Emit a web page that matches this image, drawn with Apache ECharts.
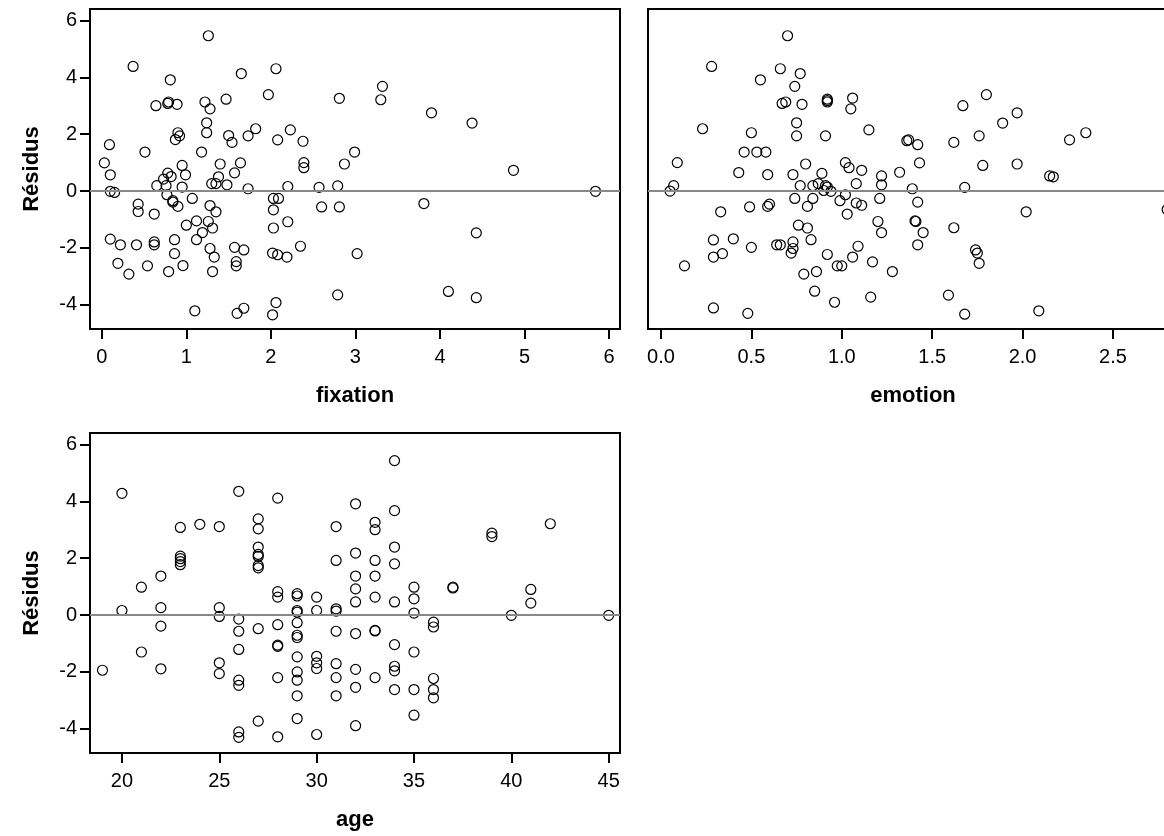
<!DOCTYPE html>
<html>
<head>
<meta charset="utf-8">
<script src="https://cdn.jsdelivr.net/npm/echarts@6/dist/echarts.min.js"></script>
<style>html,body{margin:0;padding:0;background:#fff;}#c{width:1164px;height:836px;}</style>
</head>
<body>
<div id="c"></div>
<script>
// [fixation, residual]
const fixationData = [
[1.26,5.46],[0.37,4.38],[0.81,3.91],[1.65,4.13],[2.06,4.30],[1.97,3.39],[2.81,3.26],[0.64,3.00],[0.78,3.08],[0.79,3.13],
[0.89,3.05],[1.22,3.13],[1.28,2.89],[1.47,3.23],[1.24,2.40],[1.24,2.05],[0.90,2.05],[0.92,1.94],[0.87,1.81],[1.50,1.95],
[1.54,1.71],[1.73,1.94],[1.82,2.19],[2.08,1.80],[2.23,2.15],[2.38,1.75],[0.09,1.63],[0.51,1.37],[1.18,1.37],[2.99,1.37],
[0.03,0.99],[0.95,0.90],[1.40,0.95],[1.64,0.99],[2.39,1.00],[2.39,0.82],[2.87,0.95],[0.10,0.57],[0.78,0.63],[0.82,0.51],
[0.73,0.42],[0.99,0.57],[1.38,0.50],[1.57,0.64],[3.32,3.68],[3.30,3.21],[3.90,2.75],[4.38,2.39],[4.87,0.73],[0.65,0.19],
[0.76,0.19],[0.95,0.14],[0.10,-0.01],[0.15,-0.05],[1.30,0.26],[1.35,0.26],[1.48,0.22],[1.73,0.08],[2.20,0.16],[2.57,0.13],
[2.79,0.18],[0.77,-0.13],[0.84,-0.34],[0.84,-0.39],[0.90,-0.54],[1.07,-0.26],[0.43,-0.46],[0.43,-0.72],[0.62,-0.81],[1.28,-0.51],
[1.35,-0.73],[2.03,-0.26],[2.09,-0.26],[2.03,-0.66],[2.60,-0.56],[2.81,-0.56],[1.00,-1.20],[1.12,-1.05],[1.26,-1.07],[1.31,-1.30],
[1.19,-1.46],[1.12,-1.71],[2.03,-1.30],[2.20,-1.08],[0.10,-1.69],[0.22,-1.89],[0.41,-1.89],[0.62,-1.79],[0.62,-1.89],[0.86,-1.71],
[0.86,-2.20],[1.28,-2.02],[1.33,-2.32],[1.57,-1.98],[1.68,-2.07],[1.59,-2.48],[1.59,-2.63],[2.02,-2.18],[2.08,-2.24],[2.19,-2.32],
[2.35,-1.94],[3.02,-2.20],[0.19,-2.54],[0.32,-2.92],[0.54,-2.63],[0.79,-2.83],[0.96,-2.62],[1.31,-2.83],[2.79,-3.65],[1.10,-4.21],
[1.60,-4.30],[1.68,-4.12],[2.06,-3.92],[2.02,-4.35],[5.84,-0.01],[3.81,-0.44],[4.43,-1.47],[4.10,-3.53],[4.43,-3.75]
];
// [emotion, residual]
const emotionData = [
[0.70,5.46],[0.28,4.38],[0.66,4.30],[0.77,4.13],[0.55,3.91],[0.74,3.68],[0.67,3.08],[0.69,3.13],[0.78,3.05],[0.92,3.23],
[0.92,3.18],[0.92,3.13],[1.06,3.27],[1.05,2.89],[0.23,2.19],[0.50,2.05],[0.75,2.40],[0.75,1.94],[0.91,1.94],[1.15,2.15],
[1.36,1.77],[1.37,1.80],[0.46,1.37],[0.53,1.37],[0.58,1.37],[0.09,1.00],[0.43,0.65],[0.59,0.58],[0.73,0.58],[0.80,0.95],
[0.89,0.62],[1.02,1.00],[1.04,0.82],[1.11,0.73],[1.22,0.53],[1.32,0.66],[1.80,3.39],[1.67,3.00],[1.97,2.75],[1.89,2.39],
[2.35,2.05],[2.26,1.80],[1.76,1.94],[1.62,1.71],[1.42,1.63],[1.43,0.99],[1.78,0.90],[1.97,0.95],[2.15,0.53],[2.17,0.50],
[1.22,0.22],[0.07,0.19],[0.05,0.00],[0.77,0.19],[0.84,0.19],[0.87,0.26],[0.91,0.19],[0.92,0.14],[0.90,0.02],[0.94,-0.01],
[1.08,0.26],[1.02,-0.13],[0.99,-0.34],[1.08,-0.42],[1.11,-0.50],[1.03,-0.81],[1.21,-0.26],[0.74,-0.26],[0.84,-0.26],[0.81,-0.54],
[0.60,-0.46],[0.59,-0.54],[0.49,-0.56],[0.33,-0.73],[0.76,-1.20],[0.81,-1.30],[1.20,-1.07],[1.22,-1.46],[0.29,-1.72],[0.40,-1.68],
[0.50,-1.98],[0.64,-1.89],[0.66,-1.89],[0.73,-1.79],[0.73,-2.02],[0.72,-2.18],[0.83,-1.71],[0.92,-2.23],[1.09,-1.94],[1.06,-2.32],
[0.29,-2.32],[0.34,-2.20],[0.13,-2.63],[0.975,-2.63],[1.00,-2.63],[1.17,-2.49],[1.28,-2.83],[0.79,-2.92],[0.86,-2.83],[0.85,-3.52],
[0.96,-3.91],[1.16,-3.73],[0.29,-4.11],[0.48,-4.30],[1.39,0.08],[1.68,0.13],[1.42,-0.39],[1.405,-1.05],[1.41,-1.07],[1.45,-1.46],
[1.42,-1.89],[1.62,-1.29],[2.02,-0.73],[2.80,-0.65],[1.74,-2.07],[1.75,-2.18],[1.76,-2.54],[1.59,-3.66],[1.68,-4.33],[2.09,-4.21]
];
// [age, residual]
const ageData = [
[19,-1.94],
[20,4.28],[20,0.16],
[21,0.98],[21,-1.30],
[22,1.37],[22,0.26],[22,-0.39],[22,-1.89],
[23,3.08],[23,2.07],[23,1.98],[23,1.88],[23,1.77],
[24,3.19],
[25,3.11],[25,0.26],[25,-0.05],[25,-1.68],[25,-2.06],
[26,4.35],[26,-0.14],[26,-0.57],[26,-1.21],[26,-2.29],[26,-2.47],[26,-4.11],[26,-4.30],
[27,3.38],[27,3.03],[27,2.39],[27,2.13],[27,2.06],[27,1.74],[27,1.66],[27,-0.48],[27,-3.73],
[28,4.11],[28,0.82],[28,0.63],[28,-0.34],[28,-1.06],[28,-1.10],[28,-2.20],[28,-4.28],
[29,0.75],[29,0.67],[29,0.16],[29,0.10],[29,-0.27],[29,-0.71],[29,-0.79],[29,-1.47],[29,-2.00],[29,-2.29],[29,-2.84],[29,-3.64],
[30,0.63],[30,0.16],[30,-1.45],[30,-1.68],[30,-1.88],[30,-4.20],
[31,3.11],[31,1.92],[31,0.22],[31,0.14],[31,-0.57],[31,-1.71],[31,-2.20],[31,-2.84],
[32,3.91],[32,2.18],[32,1.37],[32,0.92],[32,0.46],[32,-0.65],[32,-1.91],[32,-2.54],[32,-3.89],
[33,3.26],[33,3.00],[33,1.92],[33,1.37],[33,0.63],[33,-0.54],[33,-0.56],[33,-2.20],
[34,5.43],[34,3.67],[34,2.39],[34,1.80],[34,0.46],[34,-1.04],[34,-1.80],[34,-1.96],[34,-2.62],
[35,0.98],[35,0.57],[35,0.07],[35,-1.30],[35,-2.62],[35,-3.52],
[36,-0.25],[36,-0.42],[36,-2.23],[36,-2.62],[36,-2.91],
[37,0.98],[37,0.95],
[39,2.88],[39,2.76],
[40,-0.01],
[41,0.90],[41,0.42],
[42,3.21],
[45,-0.01]
];
const residTicks = [-4,-2,0,2,4,6];
const fixationTicks = [0,1,2,3,4,5,6];
const emotionTicks = [0,0.5,1,1.5,2,2.5];
const ageTicks = [20,25,30,35,40,45];

const FONT = 'Liberation Sans';
const chart = echarts.init(document.getElementById('c'), null, {renderer:'canvas'});

function xAx(idx, name, min, max, ticks, fmt){
  return {
    type:'value', gridIndex:idx, min:min, max:max, name:name,
    nameLocation:'middle', nameGap:56,
    nameTextStyle:{fontFamily:FONT, fontWeight:'bold', fontSize:22, color:'#000'},
    axisLine:{show:false, onZero:false},
    axisTick:{show:true, length:10, lineStyle:{color:'#000', width:2}, customValues:ticks},
    axisLabel:{show:true, fontFamily:FONT, fontSize:20, color:'#000', margin:18, customValues:ticks,
      formatter:fmt},
    splitLine:{show:false}
  };
}
function yAx(idx, showLabels){
  return {
    type:'value', gridIndex:idx, min:-4.85, max:6.4,
    name: showLabels ? 'Résidus' : '',
    nameLocation:'middle', nameGap:47,
    nameTextStyle:{fontFamily:FONT, fontWeight:'bold', fontSize:22, color:'#000'},
    axisLine:{show:false, onZero:false},
    axisTick:{show:showLabels, length:10, lineStyle:{color:'#000', width:2}, customValues:residTicks},
    axisLabel:{show:showLabels, fontFamily:FONT, fontSize:20, color:'#000', margin:13, customValues:residTicks},
    splitLine:{show:false}
  };
}
function sc(idx, data){
  return {
    type:'scatter', xAxisIndex:idx, yAxisIndex:idx, data:data,
    symbol:'circle', symbolSize:10,
    itemStyle:{color:'rgba(0,0,0,0)', borderColor:'#000', borderWidth:1.2, opacity:1},
    emphasis:{disabled:true},
    markLine:{silent:true, symbol:['none','none'], label:{show:false},
      lineStyle:{color:'#888', width:2, type:'solid'},
      data:[{yAxis:0}], animation:false},
    z:3
  };
}
const gridBase = {show:true, borderColor:'#000', borderWidth:2, backgroundColor:'#fff', containLabel:false, outerBoundsMode:'none'};
chart.setOption({
  animation:false,
  backgroundColor:'#fff',
  grid:[
    Object.assign({left:90, top:9, width:530, height:320}, gridBase),
    Object.assign({left:648, top:9, width:530, height:320}, gridBase),
    Object.assign({left:90, top:433, width:530, height:320}, gridBase)
  ],
  xAxis:[
    xAx(0,'fixation',-0.14,6.13,fixationTicks,v=>String(v)),
    xAx(1,'emotion',-0.072,2.86,emotionTicks,v=>Number(v).toFixed(1)),
    xAx(2,'age',18.36,45.58,ageTicks,v=>String(v))
  ],
  yAxis:[yAx(0,true), yAx(1,false), yAx(2,true)],
  series:[sc(0,fixationData), sc(1,emotionData), sc(2,ageData)]
});
</script>
</body>
</html>
